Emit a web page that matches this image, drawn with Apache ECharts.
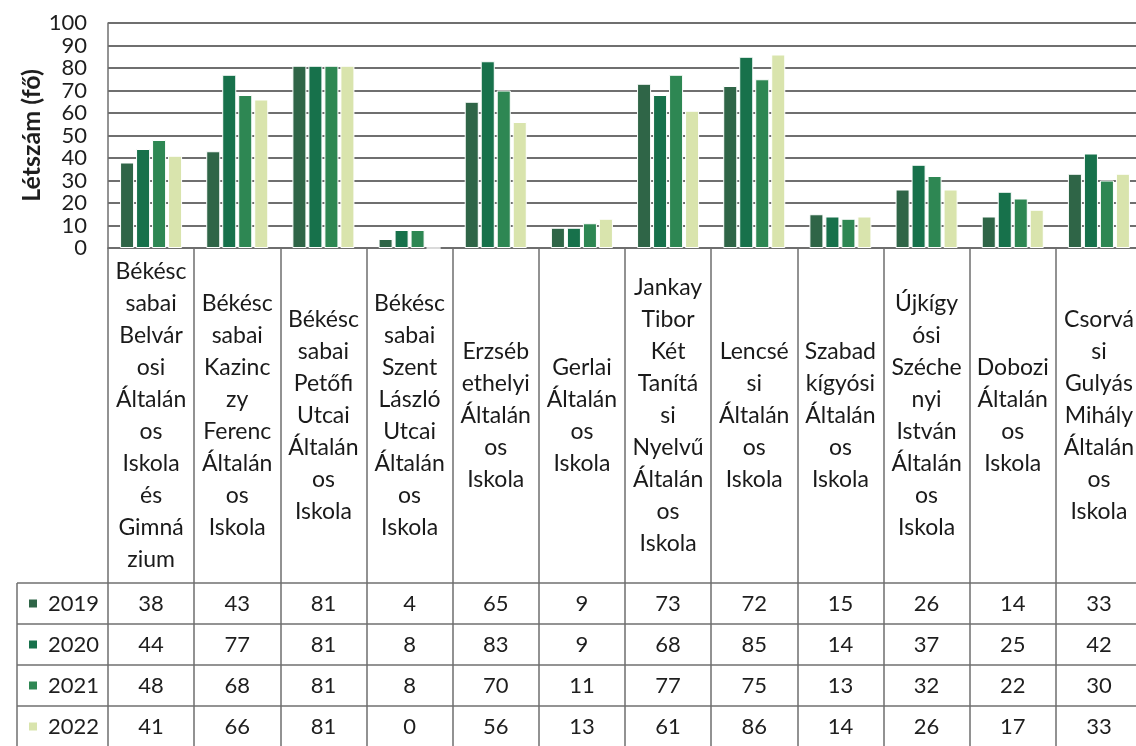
<!DOCTYPE html>
<html>
<head>
<meta charset="utf-8">
<script src="https://cdn.jsdelivr.net/npm/echarts@6/dist/echarts.min.js"></script>
<style>
  html, body { margin: 0; padding: 0; background: #fff; overflow: hidden; }
  #chart { width: 1150px; height: 780px; }
</style>
</head>
<body>
<div id="chart"></div>
<script>
// school names, broken the way the spreadsheet wrapped them
const schools = [
  'Békésc\nsabai\nBelvár\nosi\nÁltalán\nos\nIskola\nés\nGimná\nzium',
  'Békésc\nsabai\nKazinc\nzy\nFerenc\nÁltalán\nos\nIskola',
  'Békésc\nsabai\nPetőfi\nUtcai\nÁltalán\nos\nIskola',
  'Békésc\nsabai\nSzent\nLászló\nUtcai\nÁltalán\nos\nIskola',
  'Erzséb\nethelyi\nÁltalán\nos\nIskola',
  'Gerlai\nÁltalán\nos\nIskola',
  'Jankay\nTibor\nKét\nTanítá\nsi\nNyelvű\nÁltalán\nos\nIskola',
  'Lencsé\nsi\nÁltalán\nos\nIskola',
  'Szabad\nkígyósi\nÁltalán\nos\nIskola',
  'Újkígy\nósi\nSzéche\nnyi\nIstván\nÁltalán\nos\nIskola',
  'Dobozi\nÁltalán\nos\nIskola',
  'Csorvá\nsi\nGulyás\nMihály\nÁltalán\nos\nIskola'
]
const years = ['2019', '2020', '2021', '2022']
const v2019 = [38, 43, 81, 4, 65, 9, 73, 72, 15, 26, 14, 33]
const v2020 = [44, 77, 81, 8, 83, 9, 68, 85, 14, 37, 25, 42]
const v2021 = [48, 68, 81, 8, 70, 11, 77, 75, 13, 32, 22, 30]
const v2022 = [41, 66, 81, 0, 56, 13, 61, 86, 14, 26, 17, 33]
const yTicks = [0, 10, 20, 30, 40, 50, 60, 70, 80, 90, 100]

const rows = [v2019, v2020, v2021, v2022]
const colors = ['#2f6547', '#17714b', '#2e8753', '#d9e4ad']

// layout (canvas is a bit larger than the window, the picture crops it)
const font = 'Lato'
const H = 780
const gridLeft = 108, gridTop = 23, gridBottomY = 248
const tableTop = 583, rowH = 41
const lineColor = '#6f6f6f'

const chart = echarts.init(document.getElementById('chart'))

const tableAxes = rows.map((vals, i) => ({
  type: 'category',
  gridIndex: 0,
  position: 'bottom',
  data: vals.map(String),
  offset: tableTop + rowH * i + rowH / 2 - gridBottomY,
  axisLine: { show: false },
  axisTick: { show: false },
  splitLine: { show: false },
  axisLabel: {
    interval: 0, margin: 0, verticalAlign: 'middle',
    fontFamily: font, fontSize: 22, color: '#1e1e1e'
  }
}))

const tableLines = []
for (let i = 0; i < 5; i++) {
  tableLines.push({
    type: 'line', silent: true,
    shape: { x1: 17, y1: tableTop + rowH * i, x2: 1150, y2: tableTop + rowH * i },
    style: { stroke: lineColor, lineWidth: 1.5 }
  })
}
tableLines.push({
  type: 'line', silent: true,
  shape: { x1: 17, y1: tableTop, x2: 17, y2: H },
  style: { stroke: lineColor, lineWidth: 1.5 }
})

chart.setOption({
  animation: false,
  backgroundColor: '#fff',
  textStyle: { fontFamily: font },
  grid: { left: gridLeft, right: 8, top: gridTop, bottom: H - gridBottomY },
  legend: {
    data: years,
    orient: 'vertical',
    left: 27, top: tableTop,
    padding: 0, itemGap: 0,
    itemWidth: 10, itemHeight: 10,
    icon: 'rect',
    textStyle: { fontSize: 22, lineHeight: 41, color: '#1e1e1e', padding: [0, 0, 0, 5] }
  },
  xAxis: [{
    type: 'category',
    data: schools,
    axisLine: { lineStyle: { color: lineColor, width: 1.5 } },
    axisTick: {
      show: true, interval: 0, length: H - gridBottomY,
      lineStyle: { color: lineColor, width: 1.5 }
    },
    axisLabel: {
      interval: 0, margin: 416 - gridBottomY, verticalAlign: 'middle',
      fontFamily: font, fontSize: 23, lineHeight: 32, color: '#1a1a1a', align: 'center'
    }
  }].concat(tableAxes),
  yAxis: {
    type: 'value',
    min: yTicks[0], max: yTicks[yTicks.length - 1], interval: 10,
    name: 'Létszám (fő)',
    nameLocation: 'middle',
    nameGap: 64,
    nameMoveOverlap: false,
    nameTextStyle: { fontFamily: font, fontSize: 25, fontWeight: 'bold', color: '#1e1e1e' },
    axisLine: { show: true, lineStyle: { color: lineColor, width: 1.5 } },
    axisTick: { show: false },
    axisLabel: {
      fontFamily: font, fontSize: 22, color: '#1e1e1e', margin: 21,
      showMinLabel: true, showMaxLabel: true, hideOverlap: false
    },
    splitLine: { lineStyle: { color: lineColor, width: 2 } }
  },
  series: rows.map((vals, i) => ({
    type: 'bar',
    name: years[i],
    data: vals,
    xAxisIndex: 0, yAxisIndex: 0,
    barGap: '14%',
    barCategoryGap: '28%',
    itemStyle: { color: colors[i], borderColor: '#fff', borderWidth: 1 }
  })),
  graphic: tableLines
})
</script>
</body>
</html>
